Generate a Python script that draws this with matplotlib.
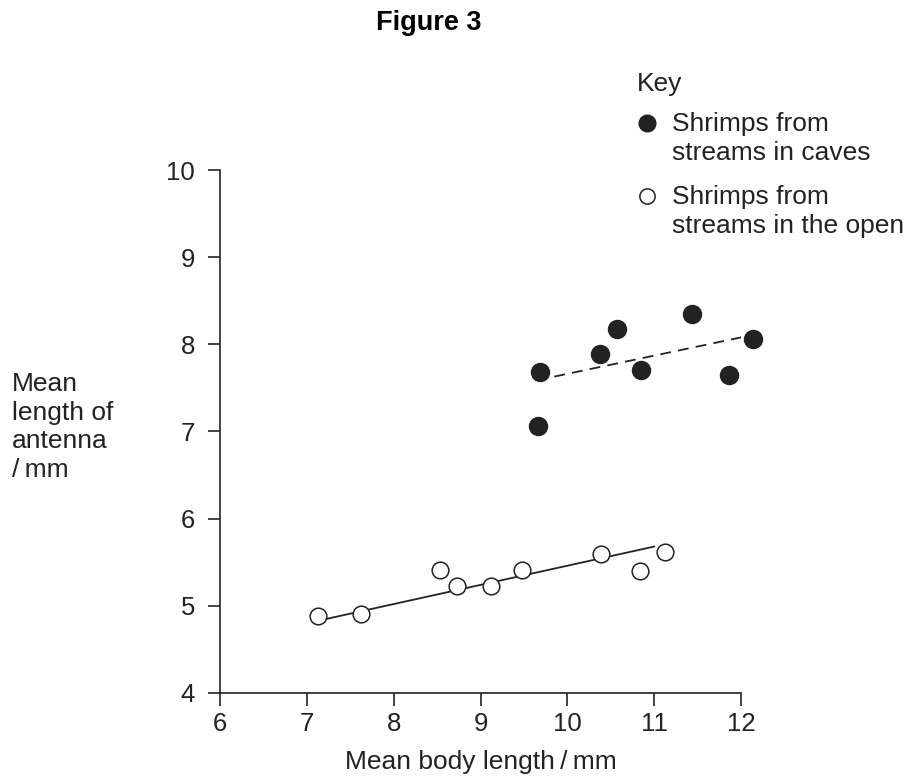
import matplotlib
matplotlib.use("Agg")
import matplotlib.pyplot as plt

plt.rcParams['font.family'] = ['Liberation Sans', 'DejaVu Sans']

# Data
cave_x = [9.66, 9.68, 10.38, 10.57, 10.85, 11.44, 11.86, 12.14]
cave_y = [7.06, 7.68, 7.89, 8.18, 7.71, 8.35, 7.65, 8.06]
open_x = [7.13, 7.62, 8.53, 8.73, 9.12, 9.48, 10.39, 10.84, 11.12]
open_y = [4.88, 4.91, 5.41, 5.23, 5.23, 5.41, 5.60, 5.40, 5.62]
cave_line_x = [9.85, 12.05]
cave_line_y = [7.63, 8.09]
open_line_x = [7.18, 11.0]
open_line_y = [4.84, 5.68]
x_ticks = [6, 7, 8, 9, 10, 11, 12]
y_ticks = [4, 5, 6, 7, 8, 9, 10]
legend_labels = ["Shrimps from\nstreams in caves", "Shrimps from\nstreams in the open"]

ink = '#222222'
FS = 19
W, H = 913, 784
fig = plt.figure(figsize=(W / 100, H / 100), dpi=100)
ax = fig.add_axes([220 / W, 1 - 693 / H, (741 - 220) / W, (693 - 170) / H])

ax.plot(cave_line_x, cave_line_y, color=ink, lw=1.3, dashes=(6, 4), zorder=2)
ax.plot(open_line_x, open_line_y, color=ink, lw=1.3, zorder=2)
ax.plot(cave_x, cave_y, 'o', ms=13, mfc=ink, mec=ink, mew=1.0, zorder=3,
        clip_on=False)
ax.plot(open_x, open_y, 'o', ms=12, mfc='white', mec=ink, mew=1.1, zorder=3,
        clip_on=False)

ax.set_xlim(6, 12)
ax.set_ylim(4, 10)
ax.set_xticks(x_ticks)
ax.set_yticks(y_ticks)
ax.set_xticklabels([str(t) for t in x_ticks])
ax.set_yticklabels([str(t) for t in y_ticks])
for s in ['top', 'right']:
    ax.spines[s].set_visible(False)
for s in ['left', 'bottom']:
    ax.spines[s].set_linewidth(1.2)
    ax.spines[s].set_color(ink)
ax.tick_params(direction='out', length=9, width=1.2, color=ink,
               labelsize=FS - 0.5, labelcolor=ink)
ax.tick_params(axis='y', pad=9)
ax.tick_params(axis='x', pad=5)

ax.set_xlabel('Mean body length\u2009/\u2009mm', fontsize=FS, color=ink)
ax.xaxis.set_label_coords(0.5, -(762 - 693) / (693 - 170))
ax.xaxis.label.set_verticalalignment('center')

fig.text(12 / W, 1 - 372 / H, 'Mean\nlength of\nantenna\n/\u2009mm', fontsize=FS,
         color=ink, ha='left', va='top', linespacing=1.25)

fig.text(429 / W, 1 - 23 / H, 'Figure 3', fontsize=19.5, fontweight='bold',
         color='black', ha='center', va='center')

# Key
fig.text(637 / W, 1 - 84 / H, 'Key', fontsize=FS, color=ink, ha='left',
         va='center')
key_rows = [(123, 'filled'), (196, 'open')]
for (ypx, kind), lab in zip(key_rows, legend_labels):
    yf = 1 - ypx / H
    if kind == 'filled':
        fig.lines.append(plt.Line2D([647 / W], [yf], marker='o', ms=12,
                                    mfc=ink, mec=ink, ls='none',
                                    transform=fig.transFigure))
    else:
        fig.lines.append(plt.Line2D([647 / W], [yf], marker='o', ms=11,
                                    mfc='white', mec=ink, mew=1.1, ls='none',
                                    transform=fig.transFigure))
    fig.text(672 / W, yf + 11 / H, lab, fontsize=FS, color=ink, ha='left',
             va='top', linespacing=1.25)

fig.savefig('out.png', dpi=100)
